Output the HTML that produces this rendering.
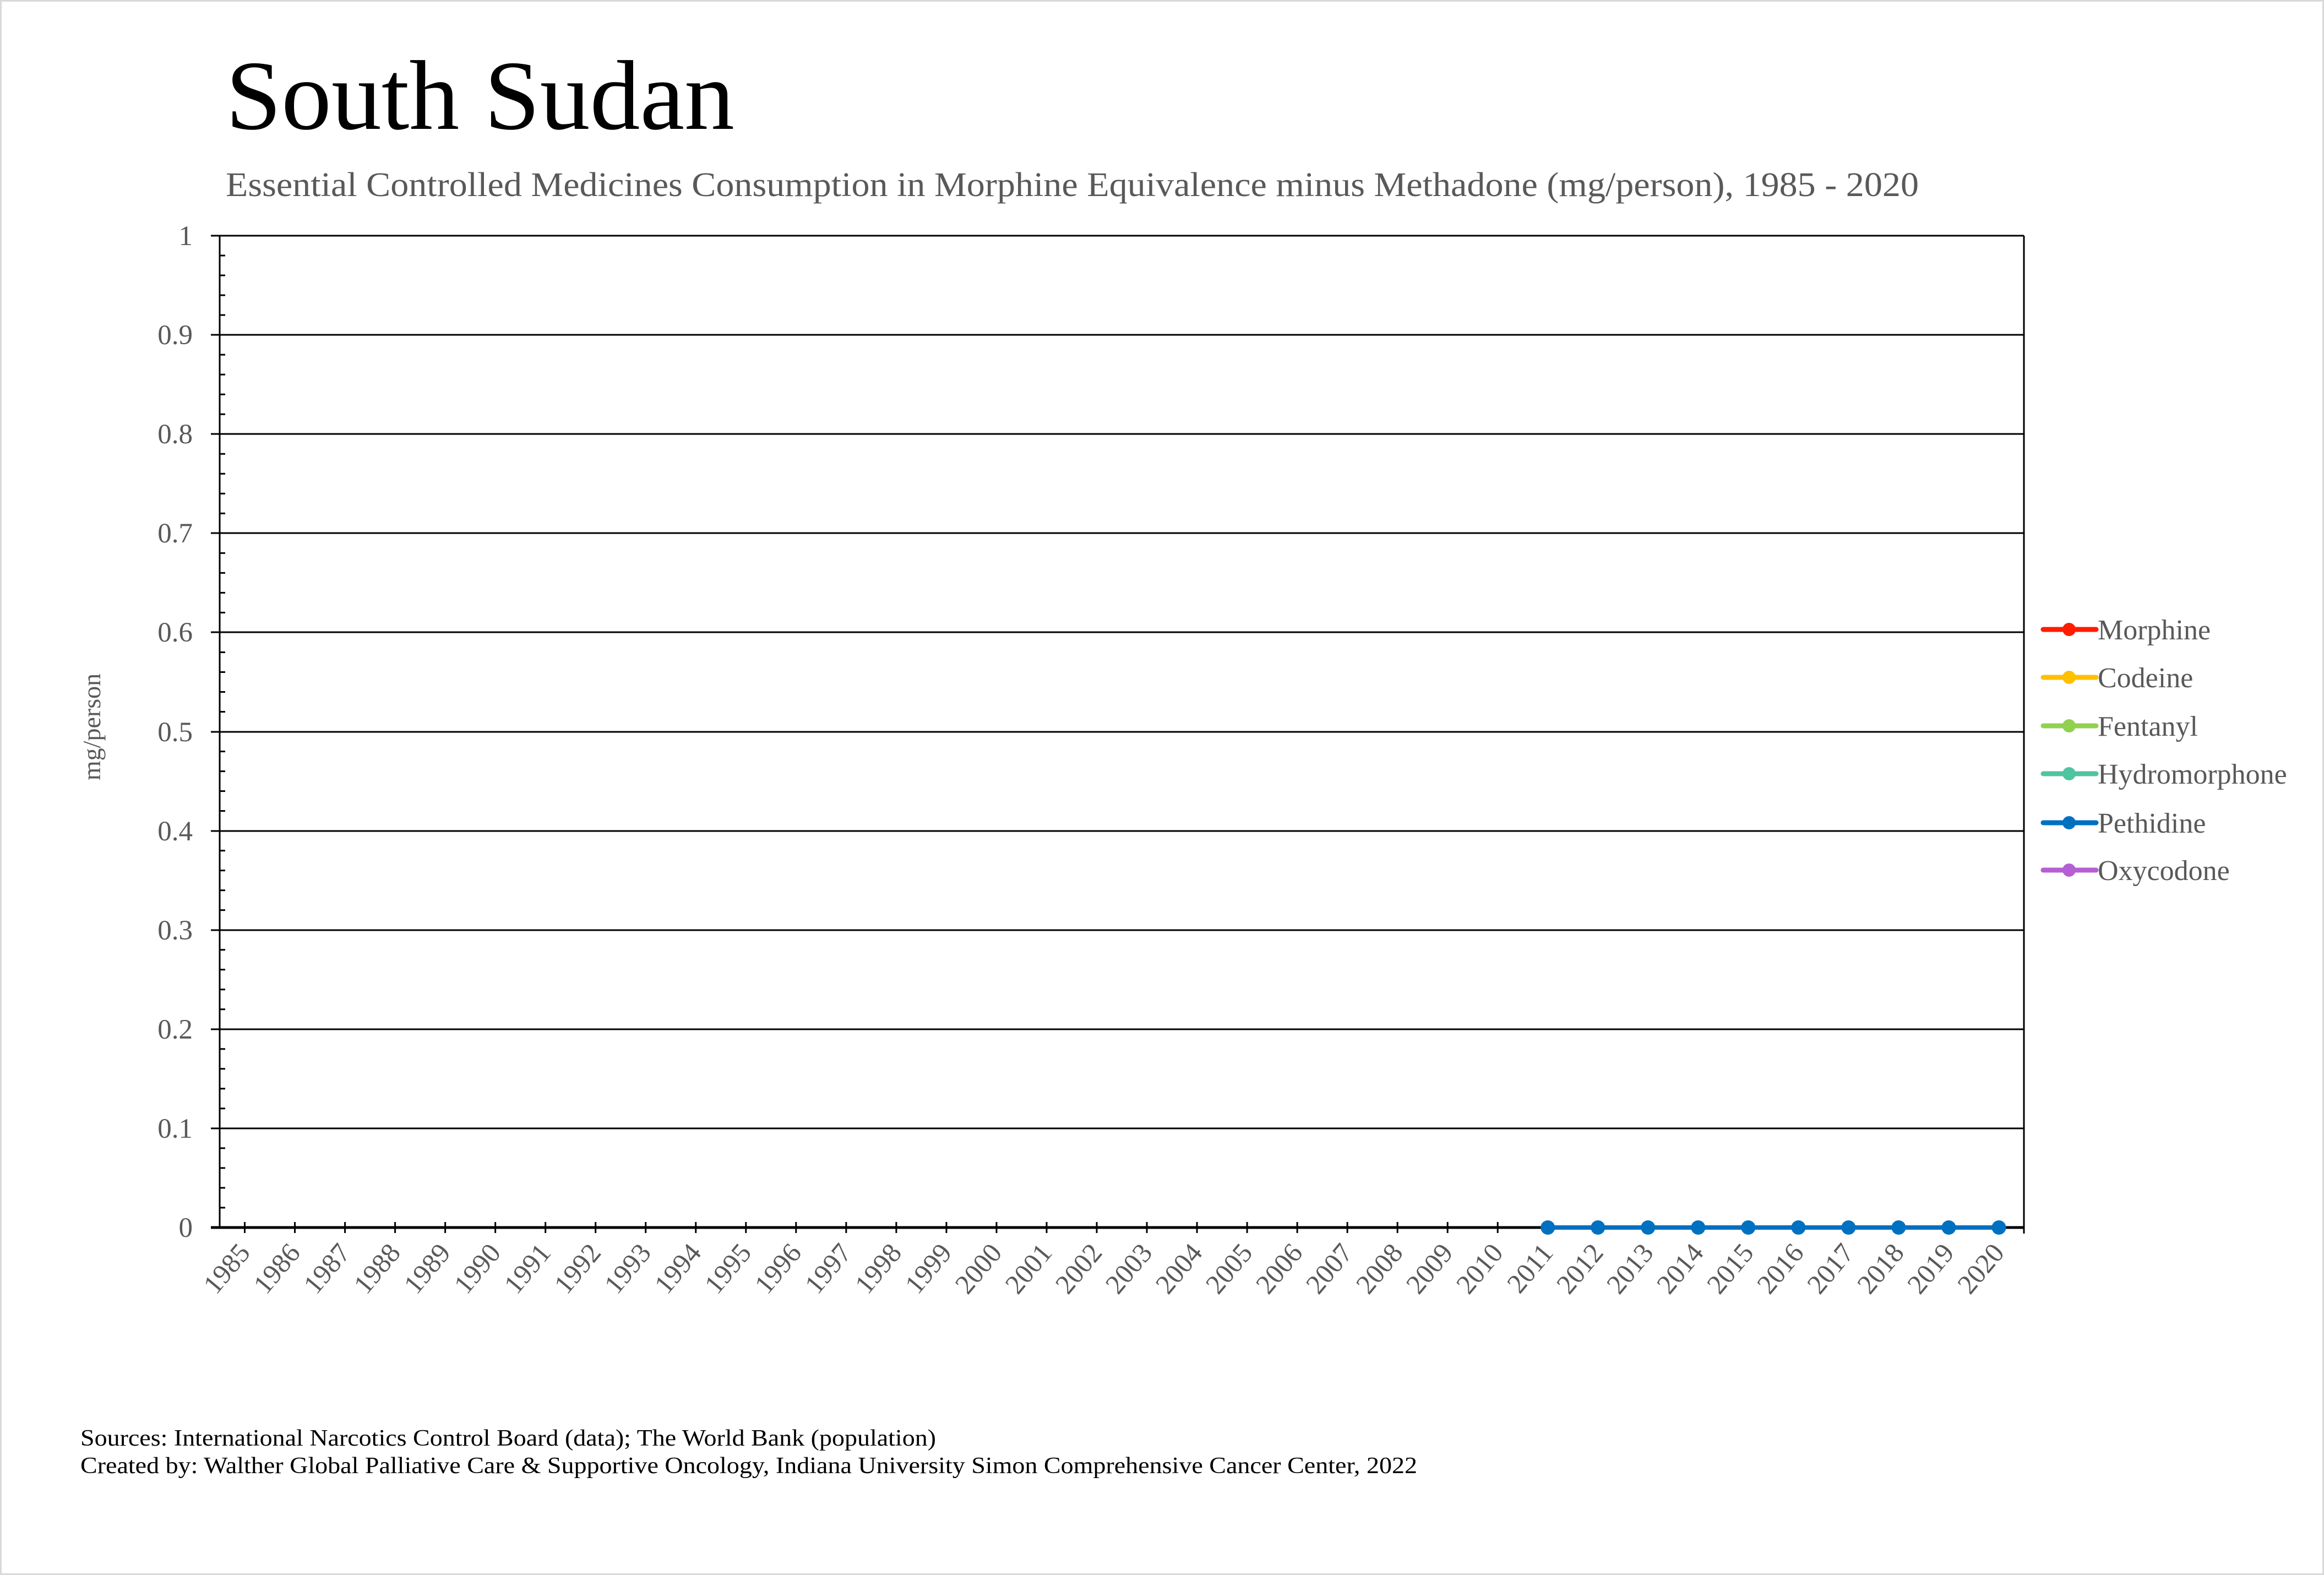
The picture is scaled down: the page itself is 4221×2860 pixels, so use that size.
<!DOCTYPE html>
<html><head><meta charset="utf-8"><style>
html,body{margin:0;padding:0;background:#fff}
svg{display:block}
text{font-family:"Liberation Serif",serif}
</style></head><body>
<svg width="4221" height="2860" viewBox="0 0 4221 2860" xmlns="http://www.w3.org/2000/svg">
<rect x="1.5" y="1.5" width="4218" height="2857" fill="#fff" stroke="#d9d9d9" stroke-width="3"/>
<text x="410" y="234" font-size="180" fill="#000" textLength="924" lengthAdjust="spacingAndGlyphs">South Sudan</text>
<text x="410" y="356" font-size="62" fill="#595959" textLength="3075" lengthAdjust="spacingAndGlyphs">Essential Controlled Medicines Consumption in Morphine Equivalence minus Methadone (mg/person), 1985 - 2020</text>
<g stroke="#000" stroke-width="3">
<line x1="383" y1="428" x2="3676" y2="428"/>
<line x1="383" y1="608" x2="3676" y2="608"/>
<line x1="383" y1="788" x2="3676" y2="788"/>
<line x1="383" y1="968" x2="3676" y2="968"/>
<line x1="383" y1="1148" x2="3676" y2="1148"/>
<line x1="383" y1="1329" x2="3676" y2="1329"/>
<line x1="383" y1="1509" x2="3676" y2="1509"/>
<line x1="383" y1="1689" x2="3676" y2="1689"/>
<line x1="383" y1="1869" x2="3676" y2="1869"/>
<line x1="383" y1="2049" x2="3676" y2="2049"/>
<line x1="383" y1="2229" x2="3676" y2="2229" stroke-width="5"/>
<line x1="399" y1="428" x2="399" y2="2229"/>
<line x1="3676" y1="428" x2="3676" y2="2240"/>
</g>
<g id="minor" stroke="#000" stroke-width="3"></g>
<g id="xt" stroke="#000" stroke-width="3"></g>
<g font-size="51" fill="#595959" text-anchor="end">
<text x="350" y="445">1</text><text x="350" y="625">0.9</text><text x="350" y="805">0.8</text>
<text x="350" y="985">0.7</text><text x="350" y="1165">0.6</text><text x="350" y="1346">0.5</text>
<text x="350" y="1526">0.4</text><text x="350" y="1706">0.3</text><text x="350" y="1886">0.2</text>
<text x="350" y="2066">0.1</text><text x="350" y="2246">0</text>
</g>
<text transform="translate(182,1320) rotate(-90)" font-size="46" fill="#595959" text-anchor="middle">mg/person</text>
<g id="xl" font-size="50" fill="#595959" text-anchor="end"></g>
<polyline fill="none" stroke="#0070C0" stroke-width="8" points="2810,2229 3630,2229"/>
<g id="pts" fill="#0070C0"></g>
<g stroke-width="9" stroke-linecap="round">
<line x1="3711" y1="1143" x2="3807" y2="1143" stroke="#FF1C00"/><circle cx="3758" cy="1143" r="12" fill="#FF1C00"/>
<line x1="3711" y1="1230" x2="3807" y2="1230" stroke="#FFC000"/><circle cx="3758" cy="1230" r="12" fill="#FFC000"/>
<line x1="3711" y1="1318" x2="3807" y2="1318" stroke="#92D050"/><circle cx="3758" cy="1318" r="12" fill="#92D050"/>
<line x1="3711" y1="1405" x2="3807" y2="1405" stroke="#50C4A0"/><circle cx="3758" cy="1405" r="12" fill="#50C4A0"/>
<line x1="3711" y1="1494" x2="3807" y2="1494" stroke="#0070C0"/><circle cx="3758" cy="1494" r="12" fill="#0070C0"/>
<line x1="3711" y1="1580" x2="3807" y2="1580" stroke="#B460D4"/><circle cx="3758" cy="1580" r="12" fill="#B460D4"/>
</g>
<g font-size="52" fill="#595959">
<text x="3810" y="1161">Morphine</text>
<text x="3810" y="1248">Codeine</text>
<text x="3810" y="1336">Fentanyl</text>
<text x="3810" y="1423">Hydromorphone</text>
<text x="3810" y="1512">Pethidine</text>
<text x="3810" y="1598">Oxycodone</text>
</g>
<text x="146" y="2625" font-size="42" fill="#000" textLength="1554" lengthAdjust="spacingAndGlyphs">Sources: International Narcotics Control Board (data); The World Bank (population)</text>
<text x="146" y="2675" font-size="42" fill="#000" textLength="2428" lengthAdjust="spacingAndGlyphs">Created by: Walther Global Palliative Care &amp; Supportive Oncology, Indiana University Simon Comprehensive Cancer Center, 2022</text>
<script>
var ns="http://www.w3.org/2000/svg";
function el(t,a,p,txt){var e=document.createElementNS(ns,t);for(var k in a)e.setAttribute(k,a[k]);if(txt)e.textContent=txt;document.getElementById(p).appendChild(e);}
for(var i=0;i<10;i++){for(var j=1;j<5;j++){var y=428+i*180.1+j*36.02;el('line',{x1:399,y1:y,x2:409,y2:y},'minor');}}
var w=3277/36;
for(var i=0;i<36;i++){var cx=399+w*(i+0.5);el('line',{x1:cx,y1:2219,x2:cx,y2:2239},'xt');
el('text',{transform:'translate('+(cx+12)+',2276) rotate(-50)'},'xl',String(1985+i));
if(i>=26)el('circle',{cx:cx,cy:2229,r:13},'pts');}
</script>
</svg>
</body></html>
